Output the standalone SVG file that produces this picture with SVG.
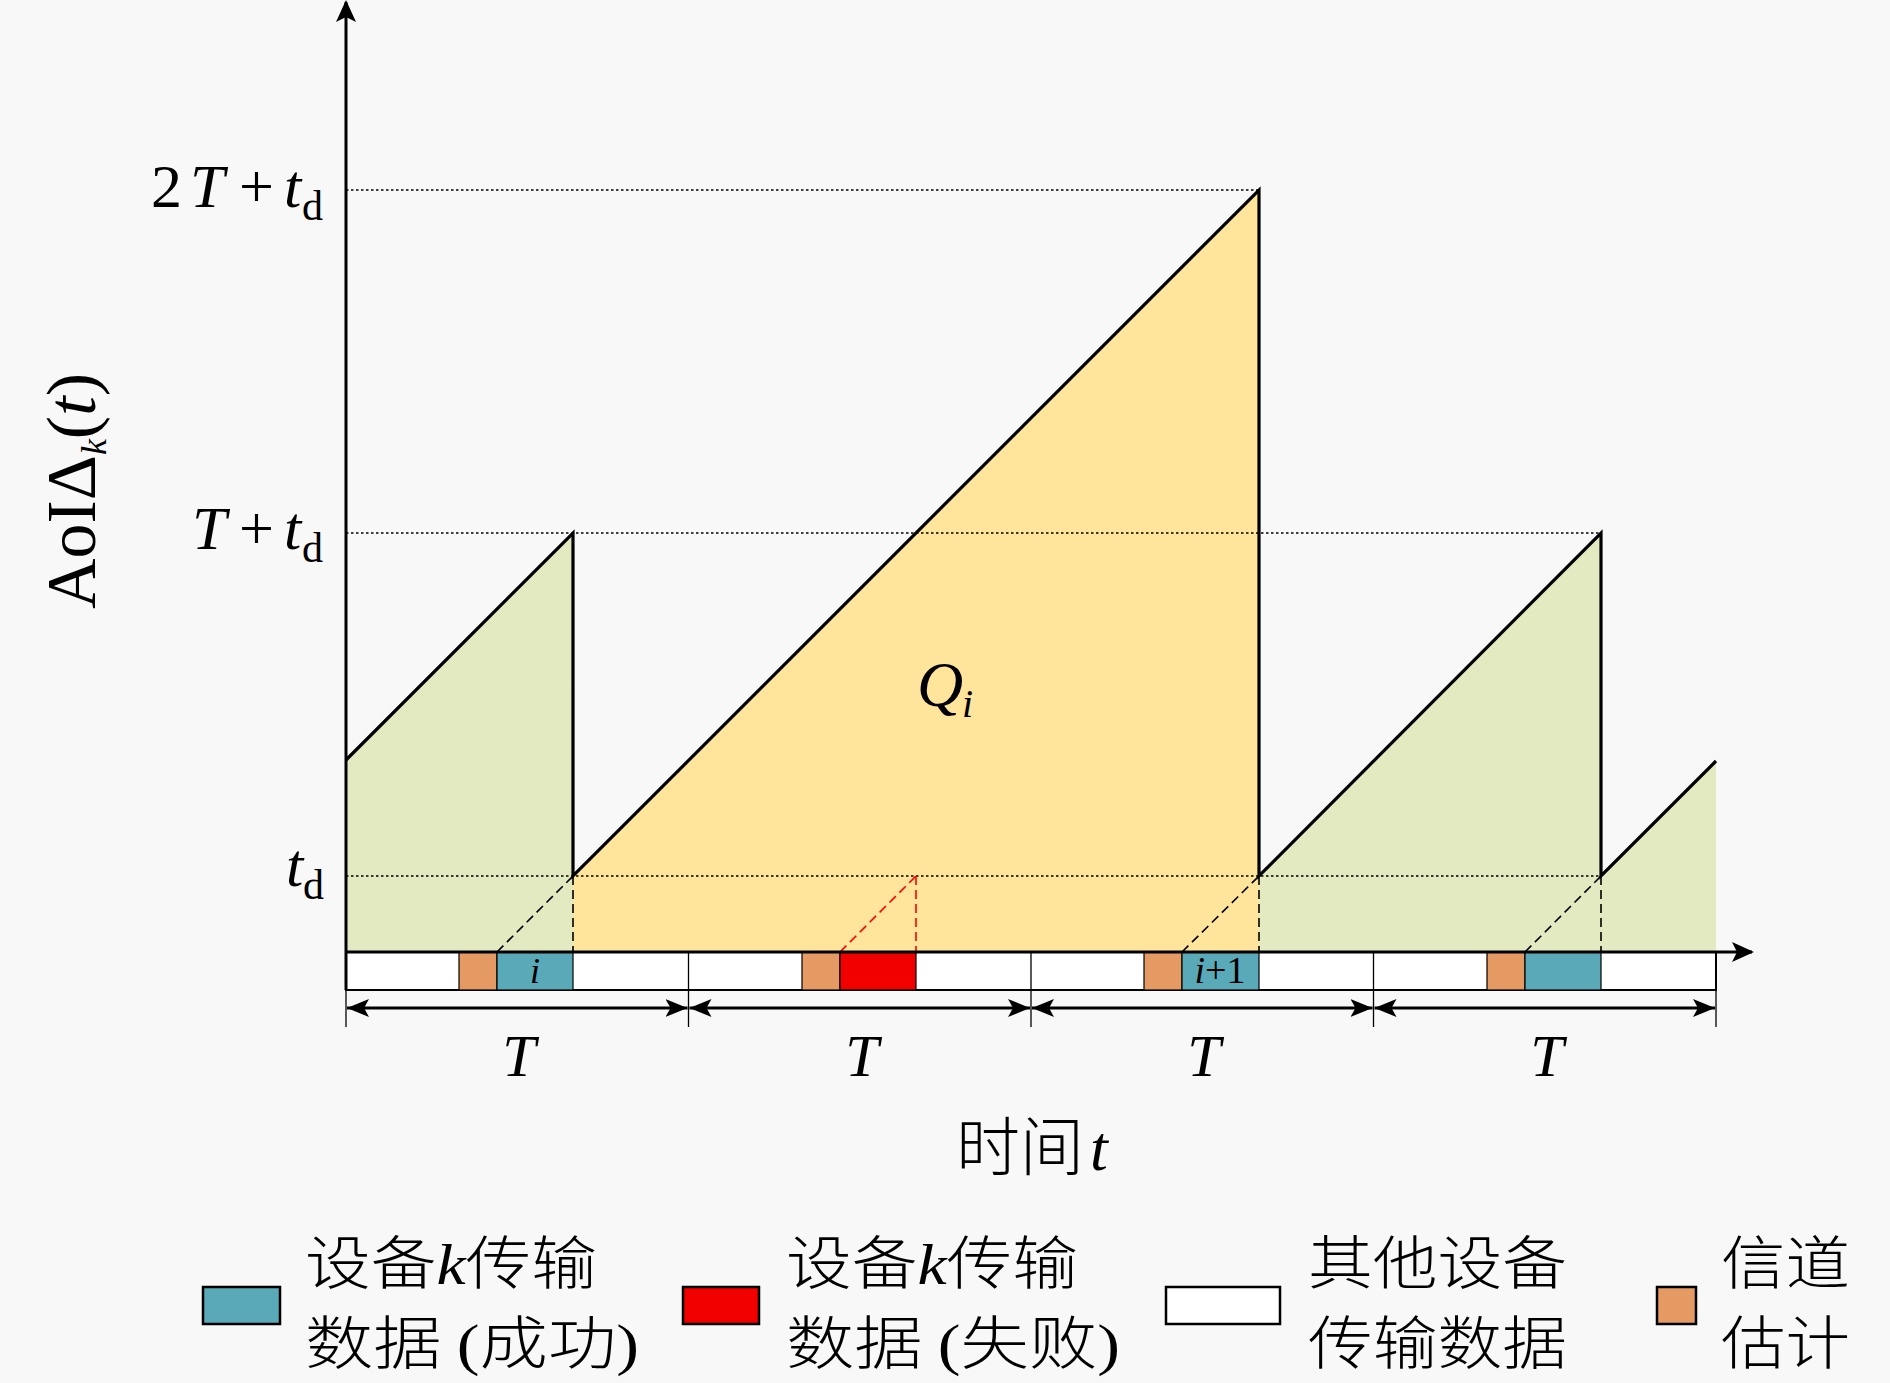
<svg xmlns="http://www.w3.org/2000/svg" width="1890" height="1383" viewBox="0 0 1890 1383">
<style>
.math{font-family:"Liberation Serif","DejaVu Serif",serif;fill:#000}
.it{font-style:italic}
.cjk{font-family:"Noto Sans CJK SC","Noto Sans CJK JP",sans-serif;fill:#000;font-weight:300}
.leg{font-size:58px}
.saw{fill:none;stroke:#000;stroke-width:3.2;stroke-linejoin:miter}
.dot{fill:none;stroke:#000;stroke-width:1.6;stroke-dasharray:2.5,2.5}
.dash{fill:none;stroke:#000;stroke-width:1.6;stroke-dasharray:9,5}
.dashr{fill:none;stroke:#f00;stroke-width:1.6;stroke-dasharray:9,5}
.green{fill:#e3e9c0}
.yellow{fill:#ffe49b}
.slot{fill:#fff;stroke:#000;stroke-width:2}
.ce{fill:#e49a62;stroke:#000;stroke-width:1.2}
.ok{fill:#5aa9b8;stroke:#000;stroke-width:1.2}
.fail{fill:#f20000;stroke:#000;stroke-width:1.2}
.tick{stroke:#000;stroke-width:1.3}
.dim{stroke:#000;stroke-width:3;marker-start:url(#ah);marker-end:url(#ah)}
.sw{stroke:#000;stroke-width:2.5}
</style>
<defs>
<marker id="ah" viewBox="0 0 22 18" refX="22" refY="9" markerWidth="22" markerHeight="18" markerUnits="userSpaceOnUse" orient="auto-start-reverse">
<path d="M0,0 L22,9 L0,18 L5,9 Z" fill="#000"/>
</marker>
<marker id="axh" viewBox="0 0 22 20" refX="20" refY="10" markerWidth="22" markerHeight="20" markerUnits="userSpaceOnUse" orient="auto">
<path d="M0,0 L22,10 L0,20 L5,10 Z" fill="#000"/>
</marker>
</defs>
<rect width="1890" height="1383" fill="#f8f8f8"/>

<g id="areas">
<polygon class="green" points="346,952 346,760 573,533 573,952"/>
<polygon class="yellow" points="573,952 573,876 1259,190 1259,952"/>
<polygon class="green" points="1259,952 1259,876 1601,533 1601,952"/>
<polygon class="green" points="1601,952 1601,876 1716,761 1716,952"/>
</g>

<g id="guides">
<line class="dot" x1="346" y1="190" x2="1259" y2="190"/>
<line class="dot" x1="346" y1="533" x2="1601" y2="533"/>
<line class="dot" x1="346" y1="876" x2="1601" y2="876"/>
</g>

<g id="slots">
<rect class="slot" x="346" y="952" width="1370" height="38"/>
<line class="tick" x1="688.5" y1="952" x2="688.5" y2="990"/>
<line class="tick" x1="1031" y1="952" x2="1031" y2="990"/>
<line class="tick" x1="1373.5" y1="952" x2="1373.5" y2="990"/>
<rect class="ce" x="459" y="952" width="38" height="38"/>
<rect class="ok" x="497" y="952" width="76" height="38"/>
<rect class="ce" x="802" y="952" width="38" height="38"/>
<rect class="fail" x="840" y="952" width="76" height="38"/>
<rect class="ce" x="1144" y="952" width="38" height="38"/>
<rect class="ok" x="1182" y="952" width="77" height="38"/>
<rect class="ce" x="1487" y="952" width="38" height="38"/>
<rect class="ok" x="1525" y="952" width="76" height="38"/>
<text class="math it" x="535" y="983" font-size="36" text-anchor="middle">i</text>
<text class="math" x="1220" y="983" font-size="38" text-anchor="middle"><tspan class="it">i</tspan>+1</text>
</g>

<g id="connectors">
<polyline class="saw" points="346,760 573,533 573,876 1259,190 1259,876 1601,533 1601,876 1716,761"/>
<line class="dash" x1="497" y1="952" x2="573" y2="876"/>
<line class="dash" x1="573" y1="876" x2="573" y2="952"/>
<line class="dashr" x1="840" y1="952" x2="916" y2="876"/>
<line class="dashr" x1="916" y1="876" x2="916" y2="952"/>
<line class="dash" x1="1182" y1="952" x2="1259" y2="876"/>
<line class="dash" x1="1259" y1="876" x2="1259" y2="952"/>
<line class="dash" x1="1525" y1="952" x2="1601" y2="876"/>
<line class="dash" x1="1601" y1="876" x2="1601" y2="952"/>
<line x1="346" y1="952" x2="1752" y2="952" stroke="#000" stroke-width="3" marker-end="url(#axh)"/>
<line x1="346" y1="990" x2="346" y2="2" stroke="#000" stroke-width="3" marker-end="url(#axh)"/>
<line class="tick" x1="346" y1="990" x2="346" y2="1027"/>
<line class="tick" x1="688.5" y1="990" x2="688.5" y2="1027"/>
<line class="tick" x1="1031" y1="990" x2="1031" y2="1027"/>
<line class="tick" x1="1373.5" y1="990" x2="1373.5" y2="1027"/>
<line class="tick" x1="1716" y1="990" x2="1716" y2="1027"/>
<line class="dim" x1="347" y1="1008" x2="687.5" y2="1008"/>
<line class="dim" x1="689.5" y1="1008" x2="1030" y2="1008"/>
<line class="dim" x1="1032" y1="1008" x2="1372.5" y2="1008"/>
<line class="dim" x1="1374.5" y1="1008" x2="1715" y2="1008"/>
</g>

<g id="axis-labels">
<text class="math" font-size="62" y="207"><tspan x="151">2</tspan><tspan class="it" x="190">T</tspan><tspan x="239">+</tspan><tspan class="it" x="284">t</tspan><tspan x="302" y="220" font-size="42">d</tspan></text>
<text class="math" font-size="62" y="549"><tspan class="it" x="192">T</tspan><tspan x="239">+</tspan><tspan class="it" x="284">t</tspan><tspan x="302" y="562" font-size="42">d</tspan></text>
<text class="math" font-size="62" y="886"><tspan class="it" x="286">t</tspan><tspan x="303" y="899" font-size="42">d</tspan></text>
<text class="math" font-size="70" transform="translate(95,609) rotate(-90)">AoIΔ<tspan class="it" font-size="36" dy="11">k</tspan><tspan dy="-11">(</tspan><tspan class="it">t</tspan>)</text>
<text class="math it" font-size="64" x="917" y="706">Q</text>
<text class="math it" font-size="40" x="962" y="717">i</text>
<text class="math it" font-size="60" x="519" y="1076" text-anchor="middle">T</text>
<text class="math it" font-size="60" x="862" y="1076" text-anchor="middle">T</text>
<text class="math it" font-size="60" x="1204" y="1076" text-anchor="middle">T</text>
<text class="math it" font-size="60" x="1547" y="1076" text-anchor="middle">T</text>
<text x="956" y="1170" font-size="64"><tspan class="cjk">时间</tspan><tspan class="math it" dx="6">t</tspan></text>
</g>

<g id="legend-success">
<rect class="sw" x="203" y="1287" width="77" height="37" fill="#5aa9b8"/>
<text class="cjk leg" x="305" y="1284" textLength="292" lengthAdjust="spacingAndGlyphs">设备<tspan class="math it">k</tspan>传输</text>
<text class="cjk leg" x="305" y="1364" textLength="334" lengthAdjust="spacingAndGlyphs">数据 <tspan class="math">(</tspan>成功<tspan class="math">)</tspan></text>
</g>
<g id="legend-fail">
<rect class="sw" x="683" y="1287" width="76" height="37" fill="#f20000"/>
<text class="cjk leg" x="786" y="1284" textLength="292" lengthAdjust="spacingAndGlyphs">设备<tspan class="math it">k</tspan>传输</text>
<text class="cjk leg" x="786" y="1364" textLength="334" lengthAdjust="spacingAndGlyphs">数据 <tspan class="math">(</tspan>失败<tspan class="math">)</tspan></text>
</g>
<g id="legend-other">
<rect class="sw" x="1166" y="1287" width="114" height="37" fill="#fff"/>
<text class="cjk leg" x="1308" y="1284" textLength="259" lengthAdjust="spacingAndGlyphs">其他设备</text>
<text class="cjk leg" x="1308" y="1364" textLength="259" lengthAdjust="spacingAndGlyphs">传输数据</text>
</g>
<g id="legend-ce">
<rect class="sw" x="1657" y="1287" width="39" height="37" fill="#e49a62"/>
<text class="cjk leg" x="1721" y="1284" textLength="129" lengthAdjust="spacingAndGlyphs">信道</text>
<text class="cjk leg" x="1721" y="1364" textLength="129" lengthAdjust="spacingAndGlyphs">估计</text>
</g>
</svg>
